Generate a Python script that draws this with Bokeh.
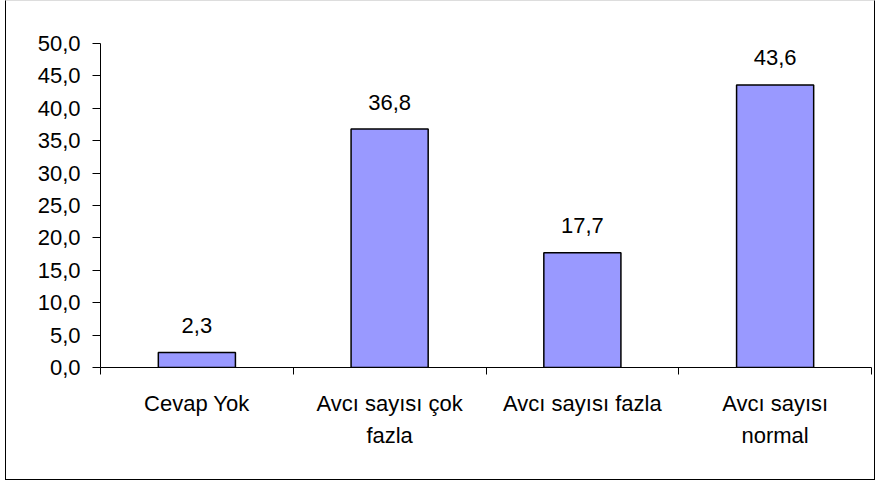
import numpy as np
from bokeh.plotting import figure
from bokeh.models import (ColumnDataSource, Range1d, FixedTicker, LabelSet)
from bokeh.core.properties import value
from bokeh.embed import file_html
from bokeh.resources import INLINE

categories = ["Cevap Yok", "Avcı sayısı çok\nfazla", "Avcı sayısı fazla", "Avcı sayısı\nnormal"]
values = [2.3, 36.8, 17.7, 43.6]
value_labels = ["2,3", "36,8", "17,7", "43,6"]
y_ticks = [0, 5, 10, 15, 20, 25, 30, 35, 40, 45, 50]
y_tick_labels = ["0,0", "5,0", "10,0", "15,0", "20,0", "25,0", "30,0", "35,0", "40,0", "45,0", "50,0"]

FONT = "Liberation Sans"
FSIZE = "22px"

xpos = np.arange(len(categories)) + 0.5
src = ColumnDataSource(dict(x=xpos, top=values, lab=value_labels))

p = figure(width=870, height=480, output_backend="svg", toolbar_location=None,
           x_range=Range1d(0, len(categories)), y_range=Range1d(0, 50),
           min_border_left=94, min_border_top=42, min_border_right=5, min_border_bottom=114)
p.styles = {"border": "1px solid black", "border-top-color": "#dddddd", "margin-left": "5px"}
p.outline_line_color = None
p.xgrid.visible = False
p.ygrid.visible = False
p.background_fill_color = "white"
p.border_fill_color = "white"

p.vbar(x="x", top="top", bottom=0, width=0.4, source=src,
       fill_color="#9999FF", line_color="black", line_width=1.5)

labels = LabelSet(x="x", y="top", text="lab", source=src, y_offset=27,
                  text_align="center", text_baseline="middle",
                  text_font=value(FONT), text_font_size=value(FSIZE), text_color="black")
p.add_layout(labels)

# y axis
p.yaxis.ticker = FixedTicker(ticks=y_ticks)
p.yaxis.major_label_overrides = {t: l for t, l in zip(y_ticks, y_tick_labels)}
p.yaxis.major_tick_in = 0
p.yaxis.major_tick_out = 8
p.yaxis.minor_tick_line_color = None
p.yaxis.major_label_standoff = 12
p.yaxis.major_label_text_font = FONT
p.yaxis.major_label_text_font_size = FSIZE
p.yaxis.major_label_text_color = "black"
p.yaxis.axis_line_color = "black"
p.yaxis.major_tick_line_color = "black"

# x axis: labels at centres, ticks at category boundaries
bounds = list(range(len(categories) + 1))
p.xaxis.ticker = FixedTicker(ticks=list(xpos), minor_ticks=bounds)
p.xaxis.major_label_overrides = {float(x): c for x, c in zip(xpos, categories)}
p.xaxis.major_tick_line_color = None
p.xaxis.major_tick_in = 0
p.xaxis.major_tick_out = 7
p.xaxis.minor_tick_in = 0
p.xaxis.minor_tick_out = 7
p.xaxis.minor_tick_line_color = "black"
p.xaxis.major_label_standoff = 16
p.xaxis.major_label_text_font = FONT
p.xaxis.major_label_text_font_size = FSIZE
p.xaxis.major_label_text_line_height = 1.3
p.xaxis.major_label_text_color = "black"
p.xaxis.axis_line_color = "black"

open("out.html", "w").write(file_html(p, INLINE))
